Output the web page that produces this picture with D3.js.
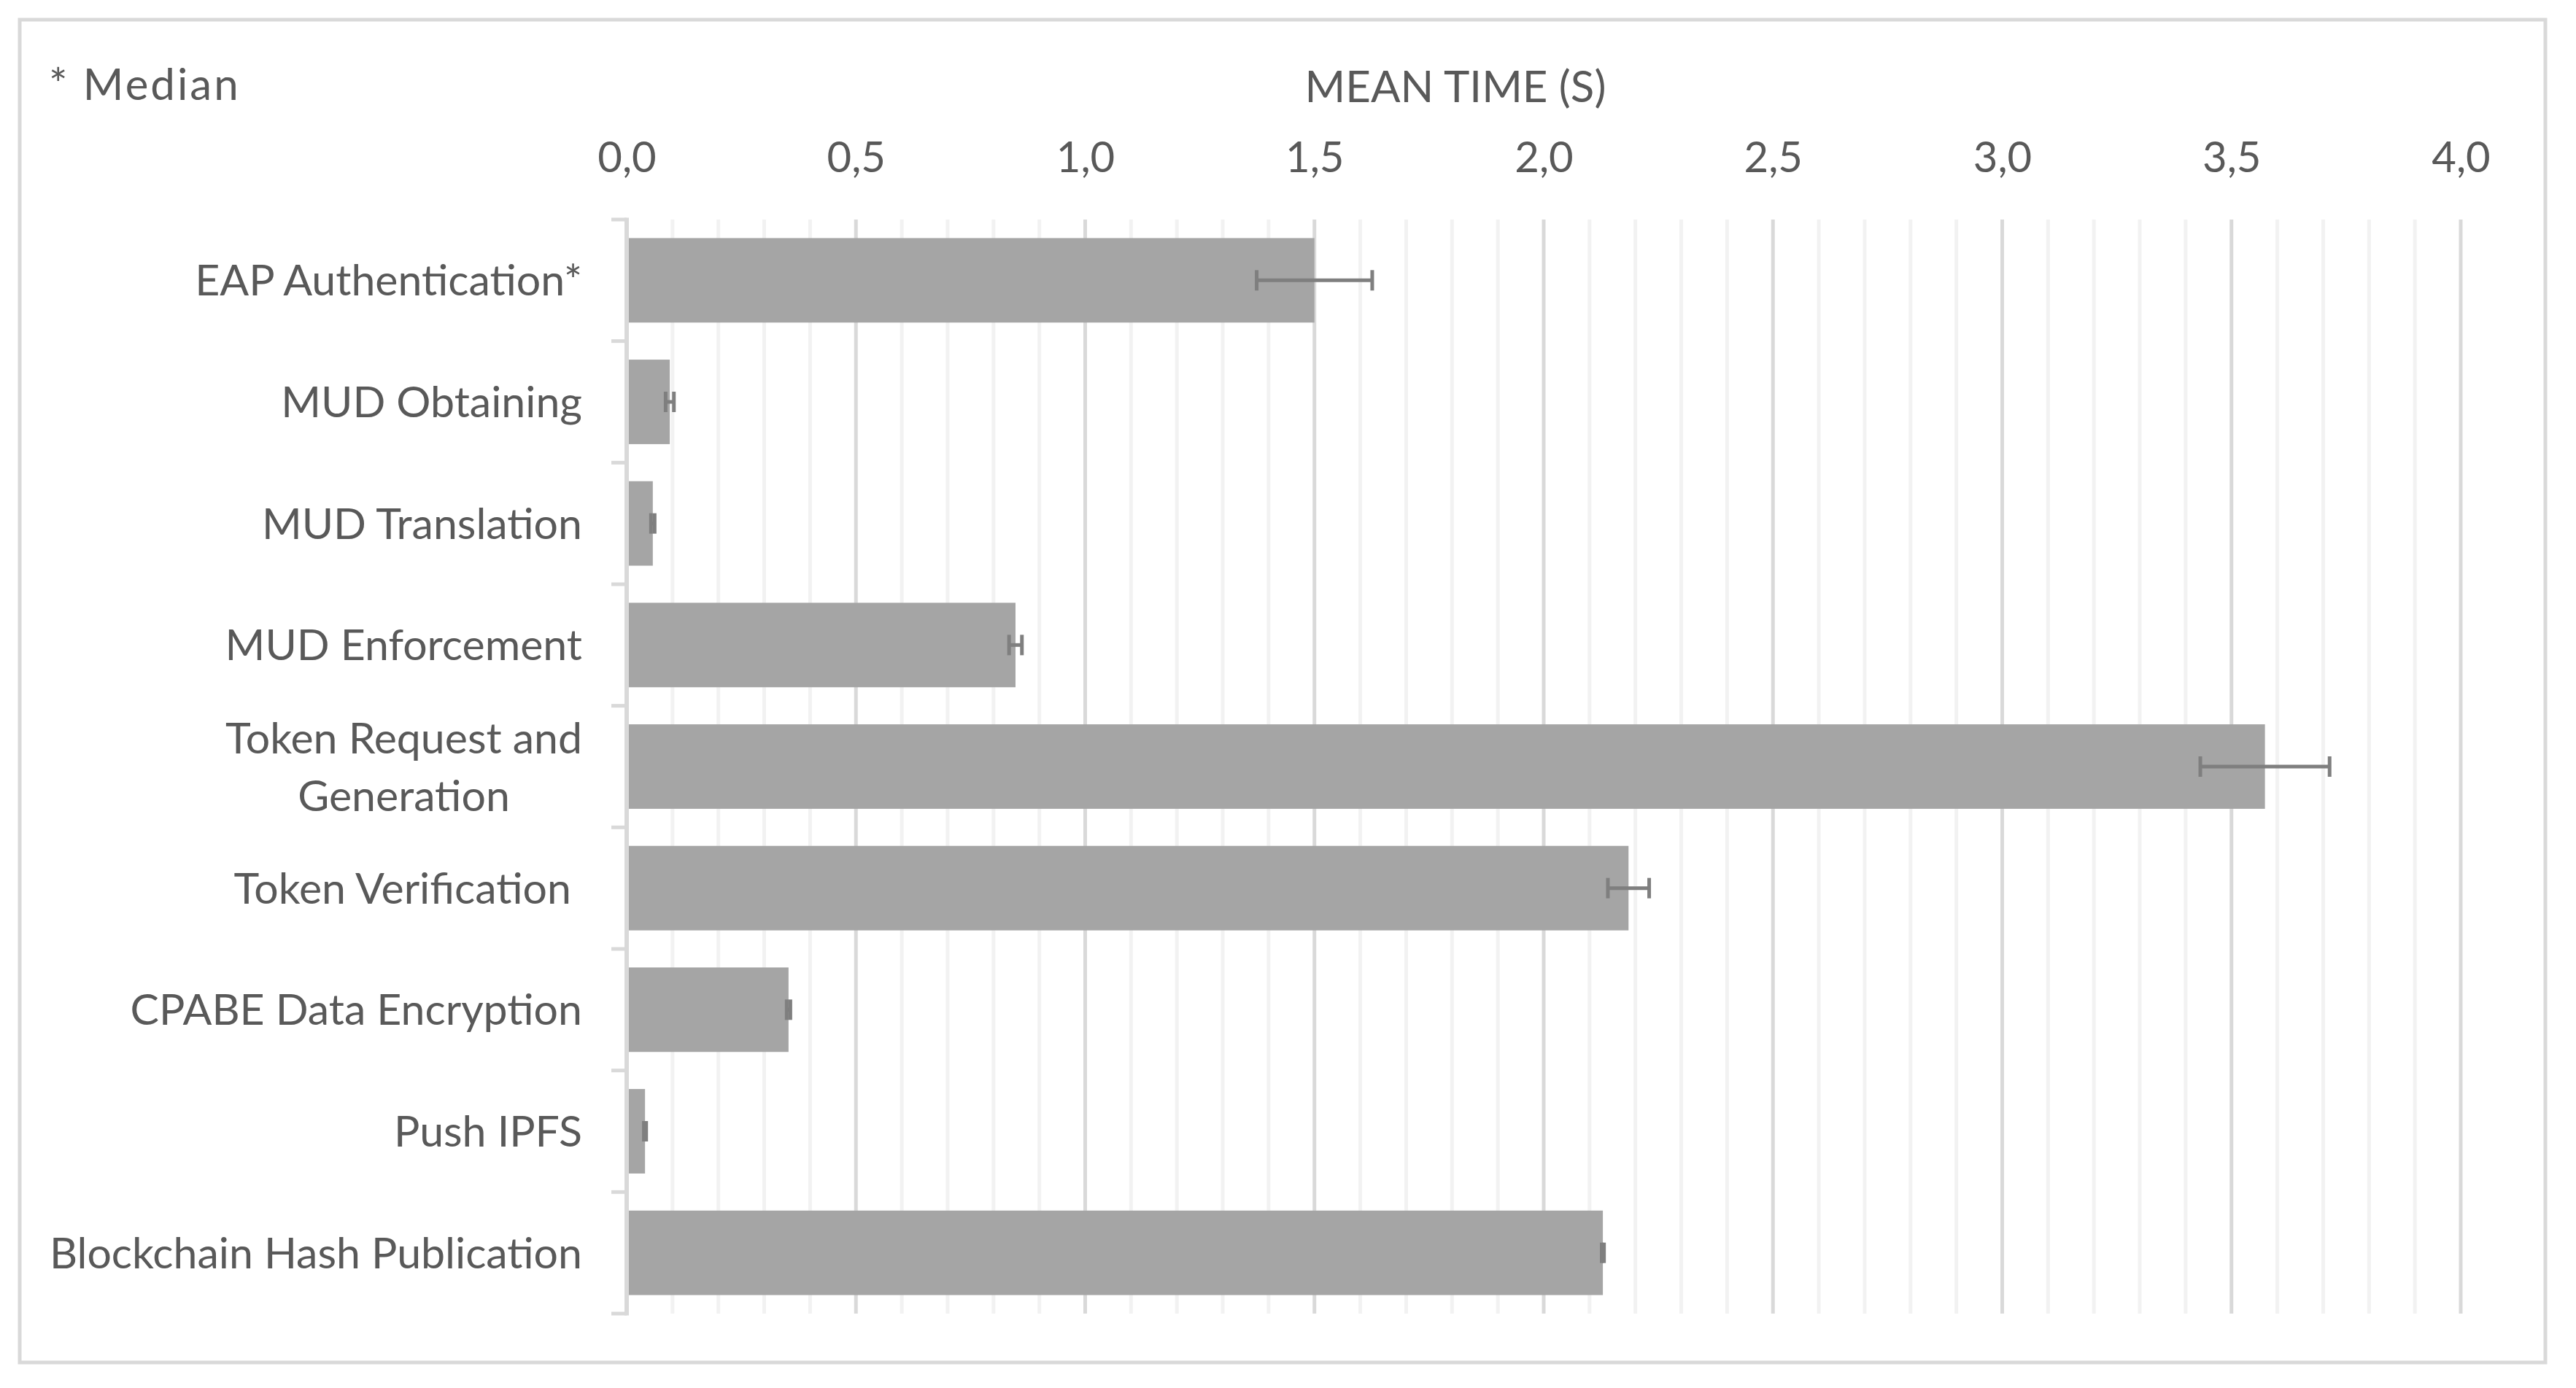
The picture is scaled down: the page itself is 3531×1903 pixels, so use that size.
<!DOCTYPE html>
<html>
<head>
<meta charset="utf-8">
<script src="https://cdn.jsdelivr.net/npm/d3@7"></script>
<style>
  html, body { margin: 0; padding: 0; background: #ffffff; }
  svg { display: block; }
  text { font-family: Lato, "Noto Sans", sans-serif; fill: #595959; }
</style>
</head>
<body>
<svg id="chart" width="3531" height="1903"></svg>
<script>
// ---- data ----
const categories = [
  "EAP Authentication*",
  "MUD Obtaining",
  "MUD Translation",
  "MUD Enforcement",
  "Token Request and\nGeneration",
  "Token Verification ",
  "CPABE Data Encryption",
  "Push IPFS",
  "Blockchain Hash Publication"
];
const meanTimes = [1.500, 0.094, 0.057, 0.848, 3.573, 2.185, 0.353, 0.040, 2.129];
const errorMargins = [0.126, 0.009, 0.004, 0.014, 0.141, 0.045, 0.004, 0.0025, 0.0025];
const xTicks = [0, 0.5, 1.0, 1.5, 2.0, 2.5, 3.0, 3.5, 4.0];
const xTickLabels = ["0,0", "0,5", "1,0", "1,5", "2,0", "2,5", "3,0", "3,5", "4,0"];
const axisTitle = "MEAN TIME (S)";
const noteText = "* Median";

// ---- layout ----
const svg = d3.select("#chart");
const plot = { left: 859, right: 3373, top: 301, bottom: 1801 };

const x = d3.scaleLinear().domain([0, 4]).range([plot.left, plot.right]);
const y = d3.scaleBand()
  .domain(d3.range(categories.length))
  .range([plot.top, plot.bottom])
  .paddingInner(0.305)
  .paddingOuter(0.1525);

// outer border
svg.append("rect")
  .attr("x", 27).attr("y", 27)
  .attr("width", 3489 - 27).attr("height", 1868 - 27)
  .attr("fill", "none").attr("stroke", "#d9d9d9").attr("stroke-width", 5);

// minor gridlines
const minorTicks = x.ticks(40).filter(v => Math.abs(v * 2 - Math.round(v * 2)) > 1e-6);
svg.append("g").selectAll("line").data(minorTicks).join("line")
  .attr("x1", d => x(d)).attr("x2", d => x(d))
  .attr("y1", plot.top).attr("y2", plot.bottom)
  .attr("stroke", "#f2f2f2").attr("stroke-width", 5);

// major gridlines
svg.append("g").selectAll("line").data(xTicks.filter(v => v > 0)).join("line")
  .attr("x1", d => x(d)).attr("x2", d => x(d))
  .attr("y1", plot.top).attr("y2", plot.bottom)
  .attr("stroke", "#d9d9d9").attr("stroke-width", 5);

// bars
svg.append("g").selectAll("rect").data(meanTimes).join("rect")
  .attr("x", x(0))
  .attr("y", (d, i) => y(i))
  .attr("width", d => x(d) - x(0))
  .attr("height", y.bandwidth())
  .attr("fill", "#a5a5a5");

// error bars
const eb = svg.append("g").attr("stroke", "#7f7f7f").attr("stroke-width", 5);
meanTimes.forEach((m, i) => {
  const cy = y(i) + y.bandwidth() / 2;
  const lo = x(m - errorMargins[i]), hi = x(m + errorMargins[i]);
  eb.append("line").attr("x1", lo).attr("x2", hi).attr("y1", cy).attr("y2", cy);
  eb.append("line").attr("x1", lo).attr("x2", lo).attr("y1", cy - 14).attr("y2", cy + 14);
  eb.append("line").attr("x1", hi).attr("x2", hi).attr("y1", cy - 14).attr("y2", cy + 14);
});

// vertical category axis line and ticks
const boundaries = d3.range(categories.length + 1).map(i => plot.top + i * y.step());
svg.append("g").selectAll("line").data(boundaries).join("line")
  .attr("x1", plot.left - 21).attr("x2", plot.left)
  .attr("y1", d => d).attr("y2", d => d)
  .attr("stroke", "#d9d9d9").attr("stroke-width", 5);
svg.append("line")
  .attr("x1", plot.left).attr("x2", plot.left)
  .attr("y1", plot.top - 2.5).attr("y2", plot.bottom + 2.5)
  .attr("stroke", "#d9d9d9").attr("stroke-width", 6);

// top value axis
const xAxis = d3.axisTop(x)
  .tickValues(xTicks)
  .tickFormat((d, i) => xTickLabels[i])
  .tickSize(0)
  .tickPadding(65);
const gx = svg.append("g").attr("transform", `translate(0,${plot.top})`).call(xAxis);
gx.select(".domain").remove();
gx.selectAll("text")
  .attr("font-family", "Lato, 'Noto Sans', sans-serif")
  .attr("font-size", 58)
  .attr("fill", "#595959");

// category labels
const labelRight = 798;
const lineGap = 79;
categories.forEach((c, i) => {
  const lines = c.split("\n");
  const cy = y(i) + y.bandwidth() / 2;
  const t = svg.append("text")
    .attr("font-size", 59)
    .style("white-space", "pre")
    .attr("text-anchor", "middle");
  const n = lines.length;
  const spans = lines.map((ln, k) => t.append("tspan")
    .attr("y", cy + (k - (n - 1) / 2) * lineGap + 21)
    .text(ln));
  let w = 0;
  spans.forEach(s => { w = Math.max(w, s.node().getComputedTextLength()); });
  spans.forEach(s => s.attr("x", labelRight - w / 2));
});

// axis title
svg.append("text")
  .attr("x", 1995).attr("y", 140)
  .attr("text-anchor", "middle")
  .attr("font-size", 60)
  .text(axisTitle);

// note
svg.append("text")
  .attr("x", 67).attr("y", 137)
  .attr("font-size", 60)
  .attr("letter-spacing", 3)
  .style("white-space", "pre")
  .text(noteText);
</script>
</body>
</html>
